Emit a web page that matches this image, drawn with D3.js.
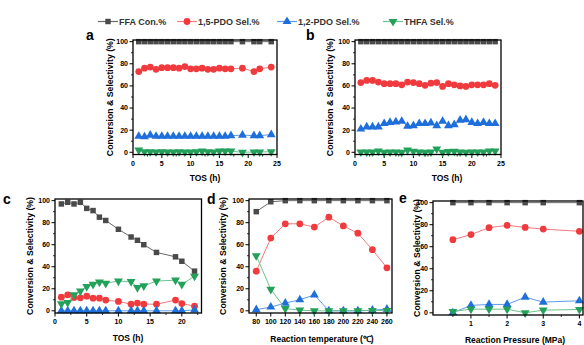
<!DOCTYPE html>
<html>
<head>
<meta charset="utf-8">
<script src="https://cdn.jsdelivr.net/npm/d3@7"></script>
<style>
  body { margin: 0; background: #fff; }
  svg { display: block; font-family: "Liberation Sans", Arial, sans-serif; }
</style>
</head>
<body>
<div id="chart"></div>
<script>
// series names (legend)
var seriesNames = ["FFA Con.%", "1,5-PDO Sel.%", "1,2-PDO Sel.%", "THFA Sel.%"]

// panel a - TOS (h)
var tosA = [1,2,3,4,5,6,7,8,9,10,11,12,13,14,15,16,17,19,21,22,24]
var ffaA = [100,100,100,100,100,100,100,100,100,100,100,100,100,100,100,100,100,100,100,100,100]
var pdo15A = [73,76,77,75,76.5,76.5,76.5,76,77.5,75.5,75.5,76,75,75,76,75.5,75.5,76,73,75.5,77]
var pdo12A = [14.5,14,15.5,14.5,14.5,14.5,14.5,14.5,14.5,14.5,14.5,14.5,14.5,14.5,14.5,14.5,15,15.5,15,15,16]
var thfaA = [2,0.5,0.5,0.3,0.5,0.3,0.3,0.5,0.3,0.3,0.5,1,0.5,0.3,1,1,1,0,0.3,0.3,0.5]

// panel b - TOS (h)
var tosB = [1,2,3,4,5,6,7,8,9,10,11,12,13,14,15,16,17,18,19,20,21,22,23,24]
var ffaB = [100,100,100,100,100,100,100,100,100,100,100,100,100,100,100,100,100,100,100,100,100,100,100,100]
var pdo15B = [63,65,65,63.5,62,62,62,61,63.5,63,62,60.5,62.5,63,59.5,62,61,60,59.5,61,61,61,62,60.5]
var pdo12B = [21,23,23,23,26,27,27.5,28,23.5,24,26,26,26.5,24,28,24,25,29,29.5,27,26,27,26,26]
var thfaB = [0.3,0.3,0.3,1.2,0,0.3,0.3,0,2,0.9,0.3,0,0.3,3,0,0.6,0.9,0.3,0,0.3,0.3,0.3,1.2,1.2]

// panel c - TOS (h)
var tosC = [1,2,3,4,5,6,7,8,10,12,13,14,16,19,20,22]
var ffaC = [97,98.5,97,98.5,93,91,85,82,74,67,64,60,53,49,45,36]
var pdo15C = [12.4,14.5,12,11.8,13.3,11.5,11.5,9.7,8.5,6,7,6,6,9.7,6.6,4.2]
var pdo12C = [0,0,0,0,0,0,0,0,0,0,0,0,0,0,0,0.8]
var thfaC = [6.3,7.5,14.5,18,22,24,26,25,27,26.5,21,22.7,27,27.8,24,31.4]

// panel d - reaction temperature
var tempD = [80,100,120,140,160,180,200,220,240,260]
var ffaD = [90,99,100,100,100,100,100,100,100,100]
var pdo15D = [36,66,79,79,76,85,77,70.5,55.5,39]
var pdo12D = [1,3.4,7,10,14.5,0,0,0,0.6,1.5]
var thfaD = [50,19.5,2,0.6,0,0,0,0,0.3,0.3]

// panel e - reaction pressure
var pressE = [0.5,1,1.5,2,2.5,3,4]
var ffaE = [100,100,100,100,100,100,100]
var pdo15E = [66.4,71,77.3,79.4,77.5,76,74]
var pdo12E = [0,6.7,7.6,7.6,14.2,9.7,10.9]
var thfaE = [1.2,3.3,3.3,3.3,0,2.4,3]

var yTicks = [0,20,40,60,80,100]

var styles = [
  {marker: "#4a4a4a", line: "#6a6a6a", sym: d3.symbolSquare, size: 30, rot: 0},
  {marker: "#f03a3d", line: "#f27b7d", sym: d3.symbolCircle, size: 36, rot: 0},
  {marker: "#1e6fdc", line: "#5f9be8", sym: d3.symbolTriangle, size: 34, rot: 0},
  {marker: "#23a05a", line: "#6cc390", sym: d3.symbolTriangle, size: 34, rot: 180}
]

var W = 584, H = 345
var svg = d3.select("#chart").append("svg").attr("width", W).attr("height", H)

function drawPanel(p) {
  var x = d3.scaleLinear().domain(p.xd).range([p.l, p.r])
  var y = d3.scaleLinear().domain([-2, 101.5]).range([p.b, p.t])
  var g = svg.append("g")

  // y ticks + minor
  var yMinor = d3.range(10, 100, 20)
  g.selectAll(".ymaj").data(yTicks).enter().append("line")
    .attr("x1", p.l - 3.5).attr("x2", p.l)
    .attr("y1", d => y(d)).attr("y2", d => y(d))
    .style("stroke", "#000").style("stroke-width", 1)
  g.selectAll(".ymin").data(yMinor).enter().append("line")
    .attr("x1", p.l - 2).attr("x2", p.l)
    .attr("y1", d => y(d)).attr("y2", d => y(d))
    .style("stroke", "#000").style("stroke-width", 0.8)
  g.selectAll(".ylab").data(yTicks).enter().append("text")
    .attr("x", p.l - 5).attr("y", d => y(d)).attr("dy", "0.35em")
    .attr("text-anchor", "end").style("font-size", "7px").style("font-weight", "bold")
    .text(d => d)

  // x ticks
  g.selectAll(".xmaj").data(p.xt).enter().append("line")
    .attr("x1", d => x(d)).attr("x2", d => x(d))
    .attr("y1", p.b).attr("y2", p.b + 3.5)
    .style("stroke", "#000").style("stroke-width", 1)
  g.selectAll(".xmin").data(p.xm).enter().append("line")
    .attr("x1", d => x(d)).attr("x2", d => x(d))
    .attr("y1", p.b).attr("y2", p.b + 2)
    .style("stroke", "#000").style("stroke-width", 0.8)
  g.selectAll(".xlab").data(p.xl).enter().append("text")
    .attr("x", d => x(d)).attr("y", p.b + 11)
    .attr("text-anchor", "middle").style("font-size", "7px").style("font-weight", "bold")
    .text(d => d)

  // series
  p.series.forEach(function(vals, si) {
    var st = styles[si]
    var pts = p.xs.map((xv, i) => [xv, vals[i]])
    g.append("path").datum(pts)
      .attr("d", d3.line().x(d => x(d[0])).y(d => y(d[1])))
      .style("fill", "none").style("stroke", st.line).style("stroke-width", 1)
    g.selectAll(".m" + si).data(pts).enter().append("path")
      .attr("d", d3.symbol().type(st.sym).size(st.size))
      .attr("transform", d => "translate(" + x(d[0]) + "," + y(d[1]) + ") rotate(" + st.rot + ")")
      .style("fill", st.marker)
  })

  // frame
  g.append("rect").attr("x", p.l).attr("y", p.t)
    .attr("width", p.r - p.l).attr("height", p.b - p.t)
    .style("fill", "none").style("stroke", "#000").style("stroke-width", 1.3)

  // titles
  g.append("text").attr("transform", "translate(" + p.yt + "," + (p.t + p.b) / 2 + ") rotate(-90)")
    .attr("text-anchor", "middle").attr("dy", "0.35em")
    .style("font-size", "8.7px").style("font-weight", "bold")
    .text("Conversion & Selectivity (%)")
  g.append("text").attr("x", p.xtx).attr("y", p.xty)
    .attr("text-anchor", "middle").style("font-size", "8.5px").style("font-weight", "bold")
    .text(p.xTitle)
  g.append("text").attr("x", p.lx).attr("y", p.ly)
    .style("font-size", "14px").style("font-weight", "bold")
    .text(p.label)
}

var tosTicks = [0,5,10,15,20,25]
var tosMinor = [2.5,7.5,12.5,17.5,22.5]

drawPanel({label: "a", lx: 86, ly: 40, l: 133, r: 277, t: 40, b: 154.5, xd: [0, 25],
  xt: tosTicks, xm: tosMinor, xl: tosTicks, xs: tosA, series: [ffaA, pdo15A, pdo12A, thfaA],
  yt: 110, xTitle: "TOS (h)", xtx: 205, xty: 181})
drawPanel({label: "b", lx: 306, ly: 40, l: 355, r: 501, t: 40, b: 154.5, xd: [0, 25],
  xt: tosTicks, xm: tosMinor, xl: tosTicks, xs: tosB, series: [ffaB, pdo15B, pdo12B, thfaB],
  yt: 330, xTitle: "TOS (h)", xtx: 447, xty: 181})
drawPanel({label: "c", lx: 3, ly: 204, l: 55, r: 201.5, t: 199, b: 313, xd: [0, 23.1],
  xt: [0,5,10,15,20], xm: [2.5,7.5,12.5,17.5,22.5], xl: [0,5,10,15,20], xs: tosC,
  series: [ffaC, pdo15C, pdo12C, thfaC], yt: 30, xTitle: "TOS (h)", xtx: 128, xty: 341})
drawPanel({label: "d", lx: 207, ly: 204, l: 249, r: 392, t: 199, b: 313, xd: [70, 267],
  xt: tempD, xm: [], xl: tempD, xs: tempD, series: [ffaD, pdo15D, pdo12D, thfaD],
  yt: 223, xTitle: "Reaction temperature (\u2103)", xtx: 322, xty: 342})
drawPanel({label: "e", lx: 399, ly: 203, l: 433, r: 583, t: 201, b: 315, xd: [-0.05, 4.1],
  xt: [1,2,3,4], xm: [0.5,1.5,2.5,3.5], xl: [1,2,3,4], xs: pressE,
  series: [ffaE, pdo15E, pdo12E, thfaE], yt: 417, xTitle: "Reaction Pressure (MPa)", xtx: 515, xty: 343})

// legend
var legX = [98, 177, 277, 383]
var leg = svg.append("g")
seriesNames.forEach(function(name, i) {
  var st = styles[i]
  var lx = legX[i], ly = 21.5
  leg.append("line").attr("x1", lx).attr("x2", lx + 20).attr("y1", ly).attr("y2", ly)
    .style("stroke", st.line).style("stroke-width", 1.2)
  leg.append("path").attr("d", d3.symbol().type(st.sym).size(st.size))
    .attr("transform", "translate(" + (lx + 10) + "," + ly + ") rotate(" + st.rot + ")")
    .style("fill", st.marker)
  leg.append("text").attr("x", lx + 21).attr("y", ly).attr("dy", "0.35em")
    .style("font-size", "9px").style("font-weight", "bold").style("fill", "#333")
    .text(name)
})
</script>
</body>
</html>
